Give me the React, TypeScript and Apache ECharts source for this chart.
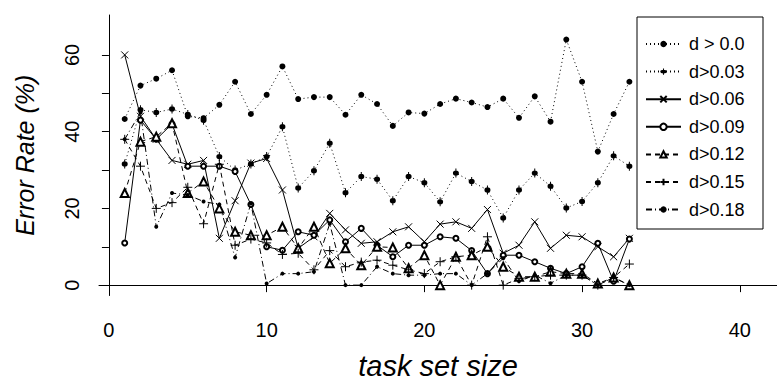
import React, { useEffect, useRef } from "react";
import * as echarts from "echarts";

const taskSetSize = [1, 2, 3, 4, 5, 6, 7, 8, 9, 10, 11, 12, 13, 14, 15, 16, 17, 18, 19, 20, 21, 22, 23, 24, 25, 26, 27, 28, 29, 30, 31, 32, 33];

const dGt000 = [43.3, 52, 53.8, 56, 44, 43.5, 47, 53, 44.6, 49.6, 57, 48.5, 49, 49, 44.4, 49.6, 47.2, 41.5, 45, 44.7, 47.2, 48.6, 47.6, 46.4, 48.6, 43.6, 49.2, 42.6, 64, 53, 34.8, 44.6, 53];
const dGt003 = [31.6, 45.7, 45, 45.9, 44.5, 43, 33.5, 30, 31.6, 33.5, 41.3, 25.3, 29.8, 37, 24.1, 28.3, 27.6, 22, 28.3, 26.7, 21.7, 29.2, 27, 24.8, 17.5, 24.8, 29.2, 25.8, 20.1, 21.8, 26.7, 33.7, 31];
const dGt006 = [60, 44, 38, 32.5, 31.5, 32.5, 12.2, 22, 31.8, 33, 24.8, 9.6, 12.6, 18.7, 14.4, 10.9, 11.3, 13.9, 15.2, 11.3, 15.9, 16.5, 14.8, 19.7, 8.3, 10.4, 16.5, 9.6, 13, 12.6, 10, 7.4, 12.2];
const dGt009 = [11, 43, 38, 42, 31, 31, 31, 29.6, 21, 10, 9.1, 13.9, 13, 17, 11.3, 14.8, 10.4, 7.4, 10.4, 10.4, 12.6, 12.2, 9, 3, 7.8, 7.8, 6.1, 4.4, 3, 4.8, 10.9, 1, 12];
const dGt012 = [24, 37.4, 38.7, 42.2, 24, 27, 20, 13.9, 13, 13, 15.2, 9.6, 15.2, 5.7, 9.6, 5.2, 10, 9.8, 4.4, 7.8, 0, 7.4, 7.8, 10, 4.8, 2.2, 2.2, 3.5, 3, 3, 0.4, 2, 0];
const dGt015 = [38, 31, 20, 21.5, 25.5, 16, 31.5, 10.4, 12, 11, 8, 8.3, 4, 9, 4.8, 6, 6.5, 5.2, 4, 3, 6.1, 7.4, 0, 12.6, 0, 1.7, 2.2, 2.6, 2.6, 2.6, 0, 2, 5.5];
const dGt018 = [38, 45, 15.2, 24, 23.5, 21.8, 21, 7.2, 21.3, 0.4, 3, 3, 3.5, 16, 0, 0, 4.8, 3, 2.6, 2.6, 3, 3, 0, 3, 7, 1, 2.6, 0.5, 2.6, 2.6, 0, 2, 0];

const seriesNames = ["d > 0.0", "d>0.03", "d>0.06", "d>0.09", "d>0.12", "d>0.15", "d>0.18"];
const xTickValues = [0, 10, 20, 30, 40];
const yTickValues = [0, 10, 20, 30, 40, 50, 60];
const yLabelValues = [0, 20, 40, 60];

const FONT = "'Liberation Sans', Arial, sans-serif";
const crossPath = "path://M0,0 L8,8 M8,0 L0,8";
const plusPath = "path://M4,0 L4,8 M0,4 L8,4";
const dotBarPath = "path://M4.5,0 H5.5 V10 H4.5 Z M2,5 A3,3 0 1,1 8,5 A3,3 0 1,1 2,5 Z";

const DOTTED = [1, 3];
const DASHED = [5, 4];
const DASHDOT = [6, 3, 1, 3];

function mk(name: string, values: number[], lineType: any, symbol: string, symbolSize: any, stroked: boolean) {
  return {
    name,
    type: "line",
    data: taskSetSize.map((x, i) => [x, values[i]]),
    symbol,
    symbolSize,
    showSymbol: true,
    lineStyle: { color: "#000", width: 1, type: lineType },
    itemStyle: stroked
      ? { color: "#000", borderColor: "#000", borderWidth: 1 }
      : { color: "#000", borderWidth: 0 },
    emphasis: { disabled: true },
  };
}

export default function App() {
  const ref = useRef<HTMLDivElement>(null);
  useEffect(() => {
    document.body.style.margin = "0";
    const chart = echarts.init(ref.current!, undefined, { renderer: "svg" });
    const axisLine = { show: true, lineStyle: { color: "#000", width: 1 } };
    chart.setOption({
      animation: false,
      backgroundColor: "#fff",
      grid: { left: 99, right: 0, top: 15, bottom: 91.5 },
      xAxis: {
        type: "value",
        min: -0.63,
        max: 42.36,
        axisLine,
        splitLine: { show: false },
        axisTick: { show: true, customValues: xTickValues, length: 7, lineStyle: { color: "#000" } },
        axisLabel: { customValues: xTickValues, fontSize: 20, fontFamily: FONT, color: "#000", margin: 24 },
        name: "task set size",
        nameLocation: "middle",
        nameGap: 56,
        nameTextStyle: { fontSize: 29, fontStyle: "italic", fontFamily: FONT, color: "#000" },
      },
      yAxis: {
        type: "value",
        min: -2.7,
        max: 70.4,
        axisLine,
        splitLine: { show: false },
        axisTick: { show: true, customValues: yTickValues, length: 7, lineStyle: { color: "#000" } },
        axisLabel: { customValues: yLabelValues, rotate: 90, fontSize: 20, fontFamily: FONT, color: "#000", margin: 17 },
        name: "Error Rate (%)",
        nameLocation: "middle",
        nameRotate: 90,
        nameGap: 62,
        nameTextStyle: { fontSize: 25, fontStyle: "italic", fontFamily: FONT, color: "#000" },
      },
      legend: {
        orient: "vertical",
        left: 640,
        top: 30,
        itemWidth: 35,
        itemHeight: 8,
        itemGap: 9.6,
        selectedMode: false,
        textStyle: { fontSize: 18, fontFamily: FONT, color: "#000", padding: [0, 0, 0, 3] },
        data: seriesNames,
      },
      graphic: [
        {
          type: "rect",
          z: -1,
          shape: { x: 637, y: 17, width: 126, height: 212 },
          style: { fill: "#fff", stroke: "#000", lineWidth: 1 },
        },
      ],
      series: [
        mk(seriesNames[0], dGt000, DOTTED, "circle", 6, false),
        mk(seriesNames[1], dGt003, DOTTED, dotBarPath, [6, 9], false),
        mk(seriesNames[2], dGt006, "solid", crossPath, 7, true),
        mk(seriesNames[3], dGt009, "solid", "emptyCircle", 5, true),
        mk(seriesNames[4], dGt012, DASHED, "emptyTriangle", 8, true),
        mk(seriesNames[5], dGt015, DASHED, plusPath, 9, true),
        mk(seriesNames[6], dGt018, DASHDOT, "circle", 4, false),
      ],
    });
    return () => chart.dispose();
  }, []);
  return <div ref={ref} style={{ width: 777, height: 387 }} />;
}
